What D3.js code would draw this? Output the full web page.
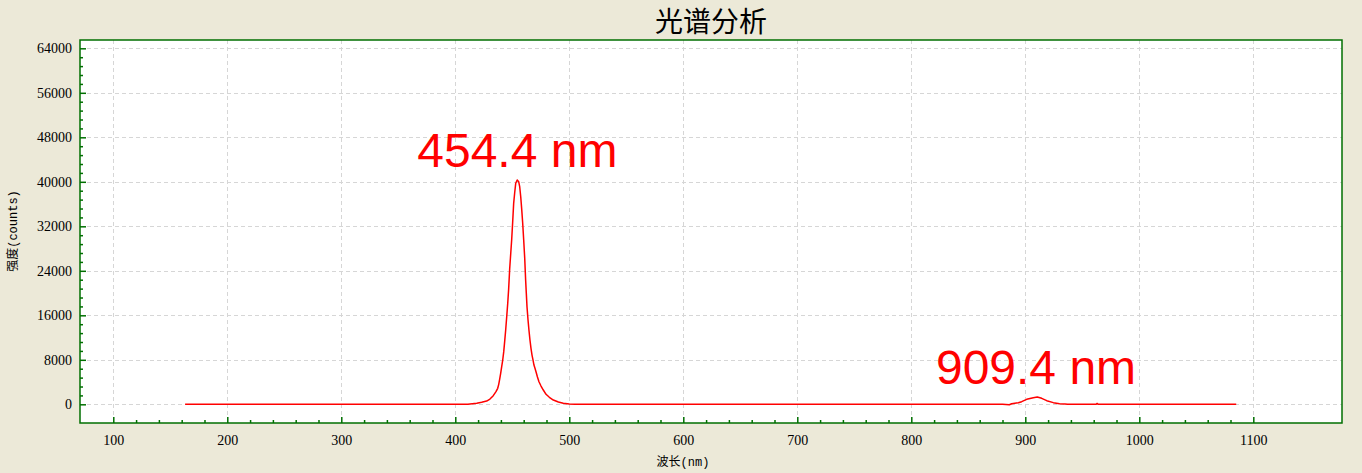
<!DOCTYPE html>
<html><head><meta charset="utf-8">
<script src="https://cdn.jsdelivr.net/npm/d3@7"></script>
<style>html,body{margin:0;padding:0;background:#ECE9D8;overflow:hidden}svg{display:block}</style>
</head><body><svg id="c" width="1362" height="473"></svg>
<script>
const wavelength = [163,250,350,405,411,418.8,423.1,427.5,430.4,433.3,435.7,437.2,438.1,438.9,439.8,440.7,441.6,442.5,443.3,444.2,445.1,446.0,446.8,447.7,448.6,449.5,450.3,451.2,452.1,453.0,454.3,455.6,456.5,457.4,458.2,459.1,460.0,460.9,461.7,462.3,462.9,463.8,464.6,465.5,466.4,467.3,468.2,469.0,469.9,470.8,472.0,473.4,475.2,477.2,479.6,482.5,486.0,490.4,494.7,500,505,600,700,800,880,886,888,893.9,896.8,901.2,907.0,910.5,914.4,918.8,924.6,930,934.8,937,962,963,964,1000,1085];
const counts = [0,0,0,0,20,180,360,590,950,1550,2270,2880,3590,4490,5570,6760,7960,9460,11260,13360,15750,18160,20700,24320,27020,29720,32650,36130,38040,39730,40330,40020,39120,37320,35230,32650,29540,26250,22350,19950,17550,15150,13360,11560,10060,8860,7960,7060,6470,5860,4960,4060,3290,2570,1800,1260,770,410,180,40,0,0,0,0,0,-80,100,290,470,900,1190,1310,1080,650,300,120,60,0,0,150,0,0,0];
const xTicks = [100,200,300,400,500,600,700,800,900,1000,1100];
const yTicks = [0,8000,16000,24000,32000,40000,48000,56000,64000];
const peakLabels = ["454.4 nm","909.4 nm"];
const peakWavelengths = [454.4, 909.4];
const peakCounts = [40330, 1310];
const title = "光谱分析";
const xLabel = "波长(nm)";
const yLabel = "强度(counts)";

const svg = d3.select("#c");
const L = 80, T = 40, R = 1342, B = 423;
const x = d3.scaleLinear().domain([70.8, 1177.8]).range([L, R]);
const y = d3.scaleLinear().domain([-3360, 65494]).range([B, T]);

svg.append("rect").attr("x",0).attr("y",0).attr("width",1362).attr("height",473).attr("fill","#ECE9D8");
svg.append("rect").attr("x",L).attr("y",T).attr("width",R-L).attr("height",B-T).attr("fill","#fff");

// grid
const grid = svg.append("g").attr("stroke","#d6d6d6").attr("stroke-width",1).attr("stroke-dasharray","4,3").attr("shape-rendering","crispEdges");
grid.selectAll(".gx").data(xTicks).join("line")
  .attr("x1",d=>Math.round(x(d))+0.5).attr("x2",d=>Math.round(x(d))+0.5).attr("y1",T).attr("y2",B);
grid.selectAll(".gy").data(yTicks).join("line")
  .attr("y1",d=>Math.round(y(d))+0.5).attr("y2",d=>Math.round(y(d))+0.5).attr("x1",L).attr("x2",R);

// line
const pts = wavelength.map((w,i)=>[w,counts[i]]);
svg.append("path").datum(pts)
  .attr("fill","none").attr("stroke","#ff0000").attr("stroke-width",1.5).attr("stroke-linejoin","round")
  .attr("d", d3.line().x(d=>x(d[0])).y(d=>y(d[1])));

// axes
const green = "#006f00";
const fontTick = "'Liberation Serif', serif";
const xMinor = d3.range(100,1101,20).filter(v=>v%100!==0);
const yMinor = d3.range(0,64001,1600).filter(v=>v%8000!==0);

const gx = svg.append("g").attr("transform",`translate(0,${B})`)
  .call(d3.axisBottom(x).tickValues(xTicks).tickSize(-6).tickPadding(12).tickFormat(d3.format("d")));
const gxm = svg.append("g").attr("transform",`translate(0,${B})`)
  .call(d3.axisBottom(x).tickValues(xMinor).tickSize(-3).tickFormat(""));
const gy = svg.append("g").attr("transform",`translate(${L},0)`)
  .call(d3.axisLeft(y).tickValues(yTicks).tickSize(-6).tickPadding(8).tickFormat(d3.format("d")));
const gym = svg.append("g").attr("transform",`translate(${L},0)`)
  .call(d3.axisLeft(y).tickValues(yMinor).tickSize(-3).tickFormat(""));
[gx,gxm,gy,gym].forEach(g=>{
  g.select(".domain").remove();
  g.selectAll("line").attr("stroke",green).attr("stroke-width",1.5);
  g.selectAll("text").attr("fill","#000").style("font-family",fontTick).style("font-size","14px");
});

// frame
svg.append("rect").attr("x",L).attr("y",T).attr("width",R-L).attr("height",B-T)
  .attr("fill","none").attr("stroke",green).attr("stroke-width",1.5);

// peak labels
svg.selectAll(".pk").data(peakLabels).join("text")
  .attr("x",(d,i)=>x(peakWavelengths[i])).attr("y",(d,i)=>y(peakCounts[i])-13)
  .attr("text-anchor","middle").attr("fill","#ff0000")
  .style("font-family","'Liberation Sans', Arial, sans-serif").style("font-size","48px")
  .text(d=>d);

// titles
const labelFont = "'Liberation Mono', 'Noto Sans CJK SC', monospace";
svg.append("text").attr("x",(L+R)/2).attr("y",32).attr("text-anchor","middle")
  .style("font-family","'Noto Sans CJK SC', sans-serif").style("font-size","28px").attr("fill","#000").text(title);
svg.append("text").attr("x",683).attr("y",466).attr("text-anchor","middle")
  .style("font-family",labelFont).style("font-size","12px").attr("fill","#000").text(xLabel);
svg.append("text").attr("transform","translate(17,231) rotate(-90)").attr("text-anchor","middle")
  .style("font-family",labelFont).style("font-size","12px").attr("fill","#000").text(yLabel);
</script></body></html>
